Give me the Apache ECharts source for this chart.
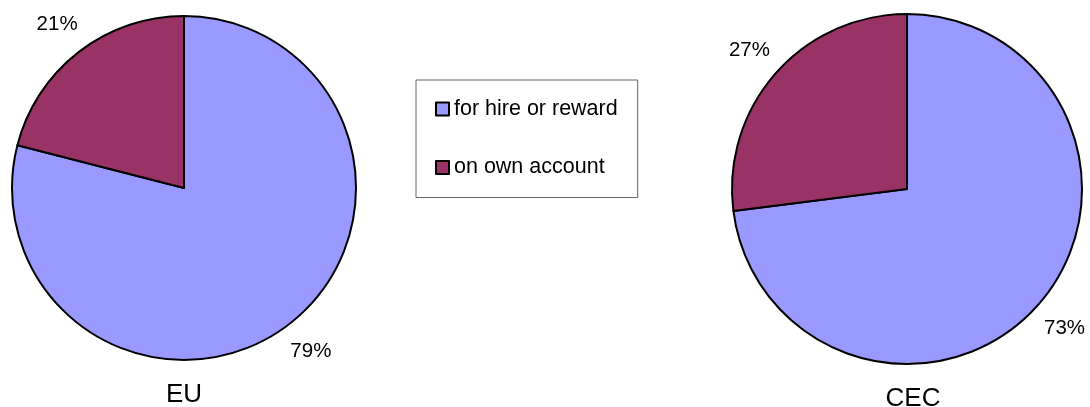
<!DOCTYPE html>
<html>
<head>
<meta charset="utf-8">
<title>EU / CEC</title>
<script src="https://cdn.jsdelivr.net/npm/echarts@6/dist/echarts.min.js"></script>
<style>
  html, body { margin: 0; padding: 0; background: #fff; }
  #chart { width: 1090px; height: 407px; }
</style>
</head>
<body>
<div id="chart"></div>
<script>
// data
const categories = ['for hire or reward', 'on own account']
const euValues = [79, 21]
const cecValues = [73, 27]
const pieTitles = ['EU', 'CEC']

const colors = ['#9999ff', '#993366']
const font = 'Liberation Sans, Arial, sans-serif'

function toData(values) {
  return categories.map((name, i) => ({ name: name, value: values[i] }))
}

// the visible pie
function pie(values, center, radius) {
  return {
    type: 'pie',
    center: center,
    radius: radius,
    startAngle: 90,
    clockwise: true,
    silent: true,
    animation: false,
    label: { show: false },
    labelLine: { show: false },
    itemStyle: { borderColor: '#000', borderWidth: 2 },
    emphasis: { disabled: true },
    data: toData(values)
  }
}

// invisible ring, only used to put the percent labels outside the pie
function labelRing(values, center, radius) {
  return {
    type: 'pie',
    center: center,
    radius: radius,
    startAngle: 90,
    clockwise: true,
    silent: true,
    animation: false,
    itemStyle: { color: 'rgba(0,0,0,0)', borderWidth: 0 },
    label: {
      show: true,
      position: 'inside',
      formatter: '{c}%',
      color: '#000',
      fontSize: 20.5,
      fontFamily: font
    },
    labelLine: { show: false },
    emphasis: { disabled: true },
    data: toData(values)
  }
}

const chart = echarts.init(document.getElementById('chart'), null, { renderer: 'canvas' })

chart.setOption({
  backgroundColor: '#fff',
  color: colors,
  title: [
    {
      text: pieTitles[0], left: 184, top: 382, textAlign: 'center', padding: 0,
      textStyle: { fontSize: 26, fontWeight: 'normal', color: '#000', fontFamily: font }
    },
    {
      text: pieTitles[1], left: 913, top: 386, textAlign: 'center', padding: 0,
      textStyle: { fontSize: 26, fontWeight: 'normal', color: '#000', fontFamily: font }
    }
  ],
  legend: {
    orient: 'vertical',
    left: 416,
    top: 80,
    data: categories,
    icon: 'rect',
    itemWidth: 13,
    itemHeight: 13,
    itemGap: 36.5,
    padding: [18, 20, 19, 19],
    borderColor: '#666',
    borderWidth: 1,
    selectedMode: false,
    itemStyle: { borderColor: '#000', borderWidth: 2 },
    textStyle: { fontSize: 21.5, color: '#000', fontFamily: font }
  },
  series: [
    pie(euValues, [184, 188], 172),
    pie(cecValues, [907, 189], 175),
    labelRing(euValues, [184, 188], [186, 222]),
    labelRing(cecValues, [907, 189], [190, 224])
  ]
})
</script>
</body>
</html>
